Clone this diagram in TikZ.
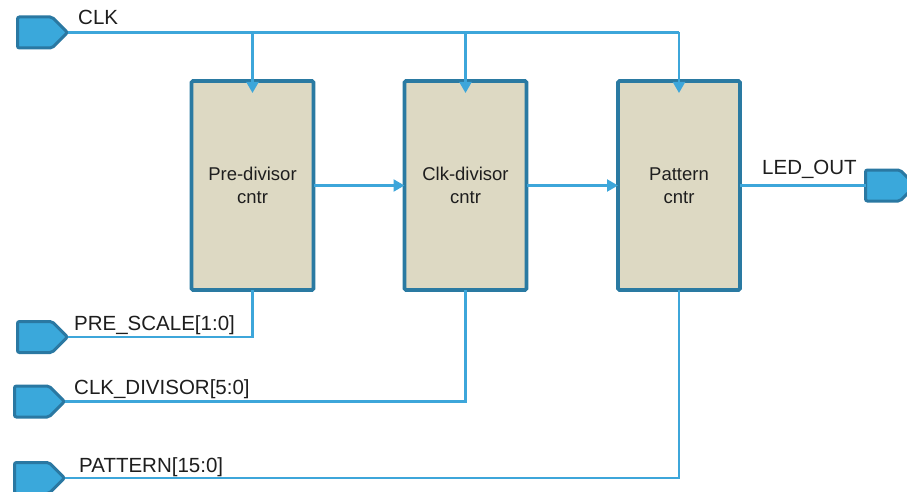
\documentclass[tikz,border=0pt]{standalone}
\usepackage{fontspec}
\setmainfont{Liberation Sans}
\usetikzlibrary{shapes.symbols,arrows.meta}
\definecolor{boxfill}{HTML}{DDD9C3}
\definecolor{boxedge}{HTML}{2A7AA2}
\definecolor{portfill}{HTML}{3AA8DB}
\definecolor{portedge}{HTML}{2A78A2}
\definecolor{wire}{HTML}{3DA6DA}
\definecolor{txt}{HTML}{1E1E1E}
\begin{document}
\begin{tikzpicture}[x=1pt,y=-1pt,
  block/.style={draw=boxedge,fill=boxfill,line width=3.8pt,rounded corners=1.5pt,
    minimum width=122pt,minimum height=209pt,inner sep=0pt,outer sep=0pt,align=center,
    font=\fontsize{18.5}{23}\selectfont,text=txt},
  port/.style={signal,signal to=east,signal pointer angle=90,draw=portedge,fill=portfill,
    line width=3pt,rounded corners=2pt,minimum width=50pt,minimum height=31pt,
    inner sep=0pt,outer sep=0pt,anchor=west},
  wirestyle/.style={draw=wire,line width=2.2pt},
  arr/.style={wirestyle,-{Triangle[length=11pt,width=12pt]}},
  lbl/.style={font=\fontsize{20.5}{24}\selectfont,text=txt,inner sep=0pt,anchor=base west}]
\clip (0,0) rectangle (907,492);
\fill[white] (0,0) rectangle (907,492);

% blocks
\node[block] (b1) at (252.5,185.5) {Pre-divisor\\cntr};
\node[block] (b2) at (465.5,185.5) {Clk-divisor\\cntr};
\node[block] (b3) at (679,185.5) {Pattern\\cntr};

% ports
\node[port] (clk) at (17.5,32.5) {};
\node[port] (ps)  at (17.5,337) {};
\node[port] (cd)  at (14.5,401.5) {};
\node[port] (pat) at (14.5,478) {};
\node[port] (led) at (865.5,185.5) {};

% labels
\node[lbl] (lclk) at (78,25) {CLK};
\node[lbl] (lps)  at (74,330) {PRE\_SCALE[1:0]};
\node[lbl] (lcd)  at (74,394) {CLK\_DIVISOR[5:0]};
\node[lbl] (lpat) at (79,472) {PATTERN[15:0]};
\node[lbl] (lled) at (762,174) {LED\_OUT};

% clock bus
\draw[wirestyle] (clk.east) -- (clk.east -| b3.north);
\draw[arr] (clk.east -| b1.north) -- ([yshift=-12pt]b1.north);
\draw[arr] (clk.east -| b2.north) -- ([yshift=-12pt]b2.north);
\draw[arr] (clk.east -| b3.north) -- ([yshift=-12pt]b3.north);

% chain
\draw[arr] (b1.east) -- (b2.west);
\draw[arr] (b2.east) -- (b3.west);
\draw[wirestyle] (b3.east) -- (led.west);

% inputs
\draw[wirestyle] (ps.east) -| (b1.south);
\draw[wirestyle] (cd.east) -| (b2.south);
\draw[wirestyle] (pat.east) -| (b3.south);
\end{tikzpicture}
\end{document}
